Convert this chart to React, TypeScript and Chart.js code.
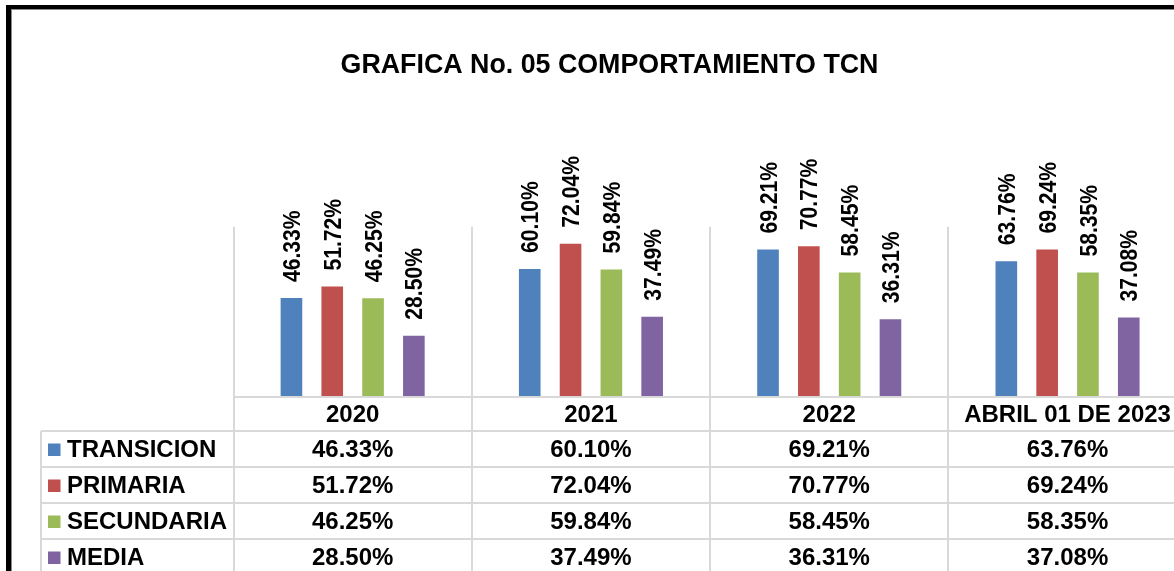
import React, { useEffect, useRef } from 'react';
import { Chart, registerables } from 'chart.js';

Chart.register(...registerables);

const categories = ['2020', '2021', '2022', 'ABRIL 01 DE 2023'];
const seriesNames = ['TRANSICION', 'PRIMARIA', 'SECUNDARIA', 'MEDIA'];
const transicion = [46.33, 60.1, 69.21, 63.76];
const primaria = [51.72, 72.04, 70.77, 69.24];
const secundaria = [46.25, 59.84, 58.45, 58.35];
const media = [28.5, 37.49, 36.31, 37.08];
const seriesColors = ['#4F81BD', '#C0504D', '#9BBB59', '#8064A2'];
const titleText = 'GRAFICA No. 05 COMPORTAMIENTO TCN';
const yMax = 80;

const FONT = '"Liberation Sans", Arial, sans-serif';
const fmt = (v: number) => v.toFixed(2) + '%';

export default function App() {
  const ref = useRef<HTMLCanvasElement>(null);

  useEffect(() => {
    const canvas = ref.current!;
    const allSeries = [transicion, primaria, secundaria, media];
    const gridColor = '#d9d9d9';
    const headerH = 34;
    const rowH = 36;
    const legendLeft = 41;

    const excelPlugin = {
      id: 'excelTable',
      beforeDraw(chart: any) {
        const ctx = chart.ctx;
        ctx.save();
        ctx.fillStyle = '#ffffff';
        ctx.fillRect(0, 0, chart.width, chart.height);
        ctx.restore();
      },
      beforeDatasetsDraw(chart: any) {
        const ctx = chart.ctx;
        const area = chart.chartArea;
        const xs = chart.scales.x;
        const n = categories.length;
        const tableTop = area.bottom + 1;
        ctx.save();
        ctx.strokeStyle = gridColor;
        ctx.lineWidth = 2;
        for (let i = 0; i <= n; i++) {
          const x = Math.round(xs.getPixelForValue(i - 0.5));
          ctx.beginPath();
          ctx.moveTo(x, area.top);
          ctx.lineTo(x, chart.height + 10);
          ctx.stroke();
        }
        const right = xs.getPixelForValue(n - 0.5);
        ctx.beginPath();
        ctx.moveTo(area.left, tableTop);
        ctx.lineTo(right, tableTop);
        ctx.stroke();
        for (let r = 0; r <= seriesNames.length; r++) {
          const y = tableTop + headerH + r * rowH;
          ctx.beginPath();
          ctx.moveTo(legendLeft, y);
          ctx.lineTo(right, y);
          ctx.stroke();
        }
        ctx.beginPath();
        ctx.moveTo(legendLeft, tableTop + headerH);
        ctx.lineTo(legendLeft, chart.height + 10);
        ctx.stroke();
        ctx.restore();
      },
      afterDatasetsDraw(chart: any) {
        const ctx = chart.ctx;
        const area = chart.chartArea;
        const xs = chart.scales.x;
        const tableTop = area.bottom + 1;
        ctx.save();
        ctx.fillStyle = '#000000';

        chart.data.datasets.forEach((ds: any, i: number) => {
          const meta = chart.getDatasetMeta(i);
          meta.data.forEach((el: any, j: number) => {
            ctx.save();
            ctx.translate(el.x + 1, el.y - 16);
            ctx.rotate(-Math.PI / 2);
            ctx.scale(0.88, 1);
            ctx.font = `bold 24px ${FONT}`;
            ctx.textAlign = 'left';
            ctx.textBaseline = 'middle';
            ctx.fillText(fmt(ds.data[j]), 0, 1);
            ctx.restore();
          });
        });

        ctx.font = `bold 24px ${FONT}`;
        ctx.textAlign = 'center';
        ctx.textBaseline = 'middle';
        categories.forEach((c, j) => {
          const x = xs.getPixelForValue(j);
          ctx.fillText(c, x, tableTop + headerH / 2 + 1);
        });
        seriesNames.forEach((name, r) => {
          const cy = tableTop + headerH + r * rowH + rowH / 2 + 1;
          ctx.fillStyle = seriesColors[r];
          ctx.fillRect(48, cy - 6.5, 12.5, 12.5);
          ctx.fillStyle = '#000000';
          ctx.textAlign = 'left';
          ctx.fillText(name, 67, cy);
          ctx.textAlign = 'center';
          allSeries[r].forEach((v, j) => {
            ctx.fillText(fmt(v), xs.getPixelForValue(j), cy);
          });
        });

        ctx.font = `bold 26.8px ${FONT}`;
        ctx.textAlign = 'center';
        ctx.textBaseline = 'alphabetic';
        ctx.fillText(titleText, 609.5, 72.5);

        ctx.fillStyle = '#000000';
        ctx.fillRect(6, 5, chart.width, 4);
        ctx.fillRect(6, 5, 5, chart.height);
        ctx.fillStyle = '#8a8a8a';
        ctx.fillRect(11, 9, chart.width, 1);
        ctx.fillRect(11, 9, 1, chart.height);
        ctx.restore();
      },
    };

    const chart = new Chart(canvas, {
      type: 'bar',
      data: {
        labels: categories,
        datasets: seriesNames.map((name, i) => ({
          label: name,
          data: allSeries[i],
          backgroundColor: seriesColors[i],
          borderWidth: 0,
          categoryPercentage: 0.685,
          barPercentage: 0.53,
        })),
      },
      options: {
        responsive: false,
        animation: false,
        devicePixelRatio: 1,
        layout: {
          padding: { left: 233.5, right: 13.3, top: 226.8, bottom: 175 },
        },
        scales: {
          x: { display: false, offset: true },
          y: { display: false, min: 0, max: yMax },
        },
        plugins: {
          legend: { display: false },
          title: { display: false },
          tooltip: { enabled: false },
        },
      },
      plugins: [excelPlugin],
    });
    return () => chart.destroy();
  }, []);

  return (
    <div
      style={{
        position: 'fixed',
        left: 0,
        top: 0,
        width: 1174,
        height: 571,
        overflow: 'hidden',
        background: '#ffffff',
      }}
    >
      <canvas ref={ref} width={1200} height={571} style={{ display: 'block' }} />
    </div>
  );
}
